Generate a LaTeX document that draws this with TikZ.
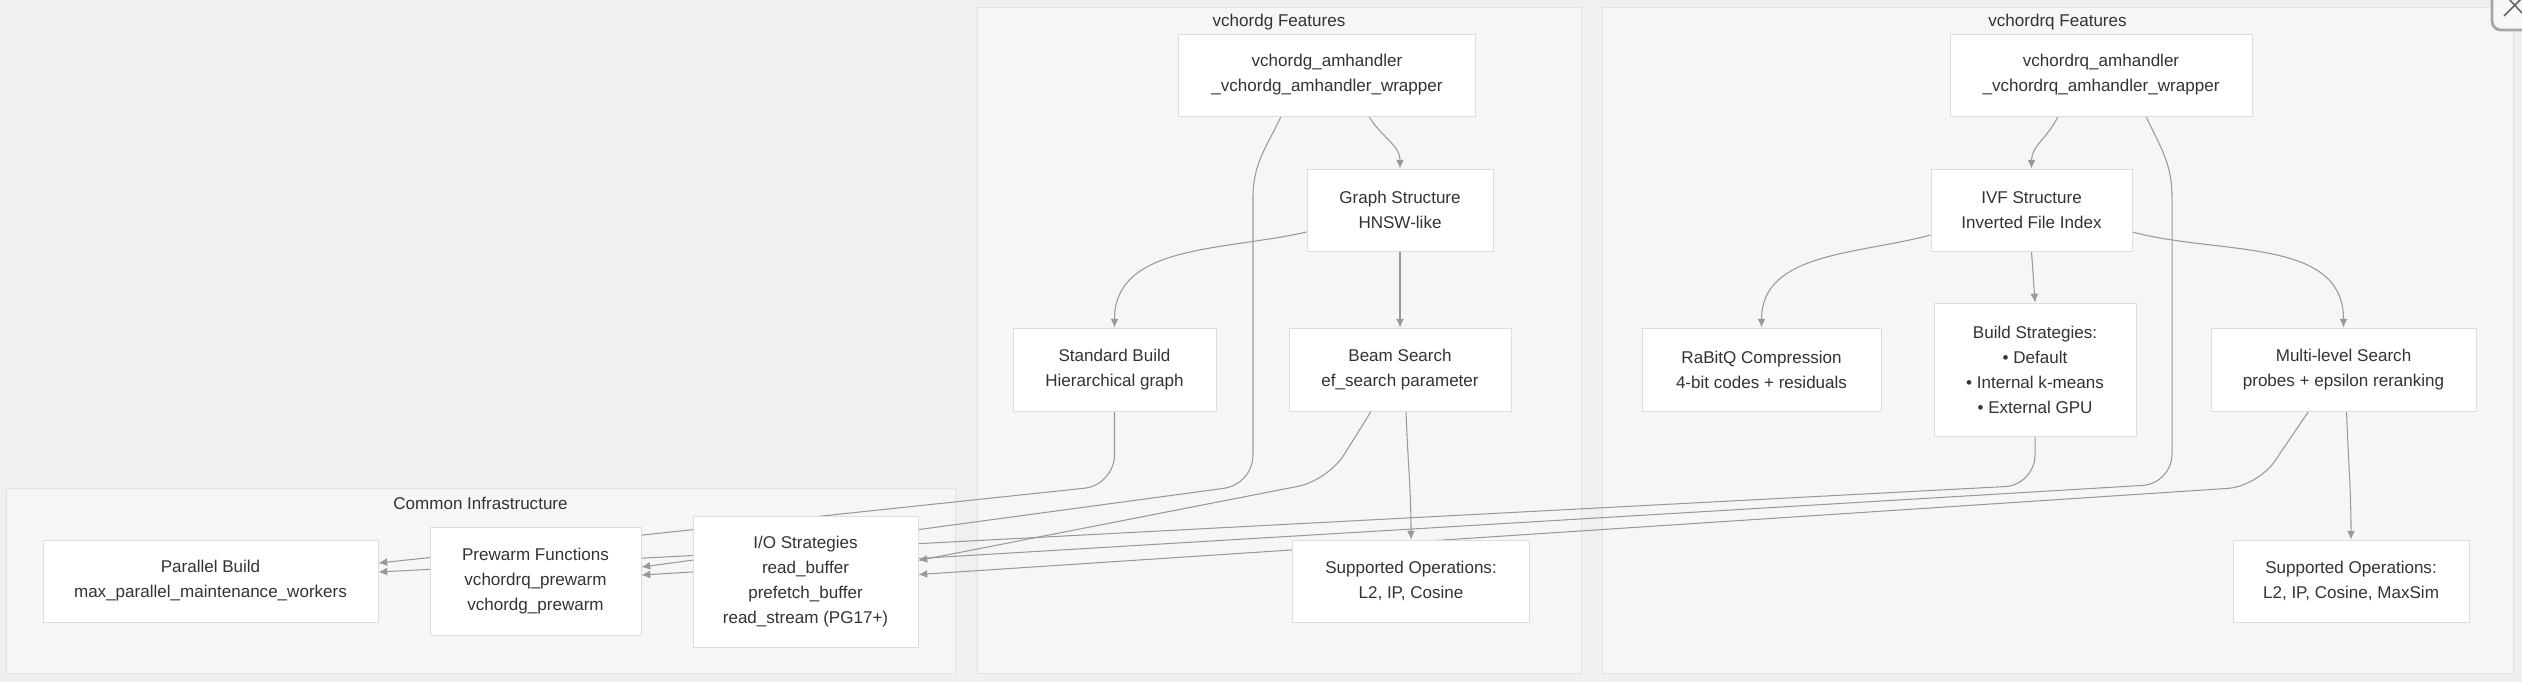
\documentclass[tikz,border=0pt]{standalone}
\usepackage{fontspec}
\setmainfont{Liberation Sans}
\usepackage{xcolor}
\usepackage{tikz}
\usetikzlibrary{arrows.meta}
\usetikzlibrary{backgrounds}
\definecolor{pagecolor}{HTML}{F0F0F0}
\definecolor{groupcolor}{HTML}{F6F6F6}
\definecolor{groupline}{HTML}{E2E2E2}
\definecolor{boxline}{HTML}{DDDDDD}
\definecolor{edgecolor}{HTML}{999999}
\definecolor{labelgray}{HTML}{333333}
\pgfdeclarelayer{back}
\pgfdeclarelayer{edges}
\pgfsetlayers{back,edges,main}
\tikzset{
  box/.style 2 args={draw=boxline, line width=0.5pt, fill=white, align=center, text=labelgray, inner sep=0pt, minimum width=#1cm, minimum height=#2cm},
  group/.style 2 args={draw=groupline, line width=0.5pt, fill=groupcolor, inner sep=0pt, minimum width=#1cm, minimum height=#2cm},
  grouptitle/.style={text=labelgray, inner sep=0pt},
  edge/.style={draw=edgecolor, line width=0.6pt, -{Latex[length=5pt,width=4.5pt]}},
  roundbend/.style={rounded corners=0.6cm}
}

\begin{document}
\begin{tikzpicture}[font=\fontsize{9.7}{14.2}\selectfont]
  \useasboundingbox (0,0) rectangle (50.44,-13.64);
  \coordinate (lane) at (0,-9.70);
  % groups
  \begin{pgfonlayer}{back}
    \fill[pagecolor] (0,0) rectangle (50.44,-13.64);
    \node[group={18.98}{3.70}] (common) at (9.61,-11.61) {};
    \node[group={12.08}{13.32}] (vg) at (25.58,-6.80) {};
    \node[group={18.22}{13.32}] (vrq) at (41.15,-6.80) {};
  \end{pgfonlayer}
  \node[grouptitle] (commontitle) at ([yshift=-0.32cm]common.north) {Common Infrastructure};
  \node[grouptitle] (vgtitle) at ([yshift=-0.32cm]vg.north) {vchordg Features};
  \node[grouptitle] (vrqtitle) at ([yshift=-0.32cm]vrq.north) {vchordrq Features};
  % vchordg
  \node[box={5.94}{1.64}] (vgamh) at (26.54,-1.50) {vchordg\_amhandler\\\_vchordg\_amhandler\_wrapper};
  \node[box={3.72}{1.64}] (graph) at (28.00,-4.20) {Graph Structure\\HNSW-like};
  \node[box={4.06}{1.66}] (stdbuild) at (22.29,-7.39) {Standard Build\\Hierarchical graph};
  \node[box={4.44}{1.66}] (beam) at (28.00,-7.39) {Beam Search\\ef\_search parameter};
  \node[box={4.74}{1.64}] (vgops) at (28.22,-11.62) {Supported Operations:\\L2, IP, Cosine};
  % vchordrq
  \node[box={6.04}{1.64}] (vrqamh) at (42.02,-1.50) {vchordrq\_amhandler\\\_vchordrq\_amhandler\_wrapper};
  \node[box={4.02}{1.64}] (ivf) at (40.63,-4.20) {IVF Structure\\Inverted File Index};
  \node[box={4.78}{1.66}] (rabitq) at (35.23,-7.39) {RaBitQ Compression\\4-bit codes + residuals};
  \node[box={4.04}{2.66}] (buildstrat) at (40.70,-7.39) {Build Strategies:\\• Default\\• Internal k-means\\• External GPU};
  \node[box={5.30}{1.66}] (multi) at (46.87,-7.39) {Multi-level Search\\probes + epsilon reranking};
  \node[box={4.72}{1.64}] (vrqops) at (47.02,-11.62) {Supported Operations:\\L2, IP, Cosine, MaxSim};
  % common
  \node[box={6.70}{1.64}] (parallel) at (4.21,-11.62) {Parallel Build\\max\_parallel\_maintenance\_workers};
  \node[box={4.22}{2.16}] (prewarm) at (10.71,-11.62) {Prewarm Functions\\vchordrq\_prewarm\\vchordg\_prewarm};
  \node[box={4.50}{2.62}] (io) at (16.11,-11.63) {I/O Strategies\\read\_buffer\\prefetch\_buffer\\read\_stream (PG17+)};
  % edges
  \begin{pgfonlayer}{edges}
    \draw[edge] ([xshift=0.84cm]vgamh.south) to[out=-60,in=90] (graph.north);
    \draw[edge] ([xshift=-0.92cm]vgamh.south) to[out=-115,in=90] ++(-0.56,-1.6) -- ++(0,-5.16) to[out=-90,in=8] ++(-0.60,-0.68) -- ([yshift=0.28cm]prewarm.east);
    \draw[edge] ([yshift=-0.44cm]graph.west) to[out=193,in=90] (stdbuild.north);
    \draw[edge] (graph.south) -- (beam.north);
    \draw[edge,roundbend] (stdbuild.south) -- (stdbuild.south |- lane) -- ([yshift=0.36cm]parallel.east);
    \draw[edge,roundbend] ([xshift=-0.58cm]beam.south) -- ++(-0.86,-1.38) -- ([yshift=0.42cm]io.east);
    \draw[edge] ([xshift=0.12cm]beam.south) to[out=-88,in=90] (vgops.north);
    \draw[edge] ([xshift=-0.86cm]vrqamh.south) to[out=-115,in=90] (ivf.north);
    \draw[edge] ([xshift=0.90cm]vrqamh.south) to[out=-65,in=90] ++(0.52,-1.6) -- ++(0,-5.14) to[out=-90,in=3] ++(-0.60,-0.64) -- ([yshift=0.12cm]prewarm.east);
    \draw[edge] ([yshift=-0.5cm]ivf.west) to[out=195,in=90] (rabitq.north);
    \draw[edge] (ivf.south) -- (buildstrat.north);
    \draw[edge] ([yshift=-0.44cm]ivf.east) to[out=-15,in=90] (multi.north);
    \draw[edge,roundbend] (buildstrat.south) -- (buildstrat.south |- lane) -- ([yshift=0.18cm]parallel.east);
    \draw[edge,roundbend] ([xshift=-0.70cm]multi.south) -- ++(-1.02,-1.5) -- ([yshift=0.14cm]io.east);
    \draw[edge] ([xshift=0.06cm]multi.south) to[out=-88,in=90] (vrqops.north);
  \end{pgfonlayer}
  % corner button
  \draw[black!35, line width=1.6pt, fill=white!97!black, rounded corners=5pt] (49.84,0.4) |- (51,-0.60);
  \draw[black!60, line width=0.9pt] (50.08,-0.32) -- (50.44,0.04) (50.16,0.04) -- (50.44,-0.26);
\end{tikzpicture}
\end{document}
